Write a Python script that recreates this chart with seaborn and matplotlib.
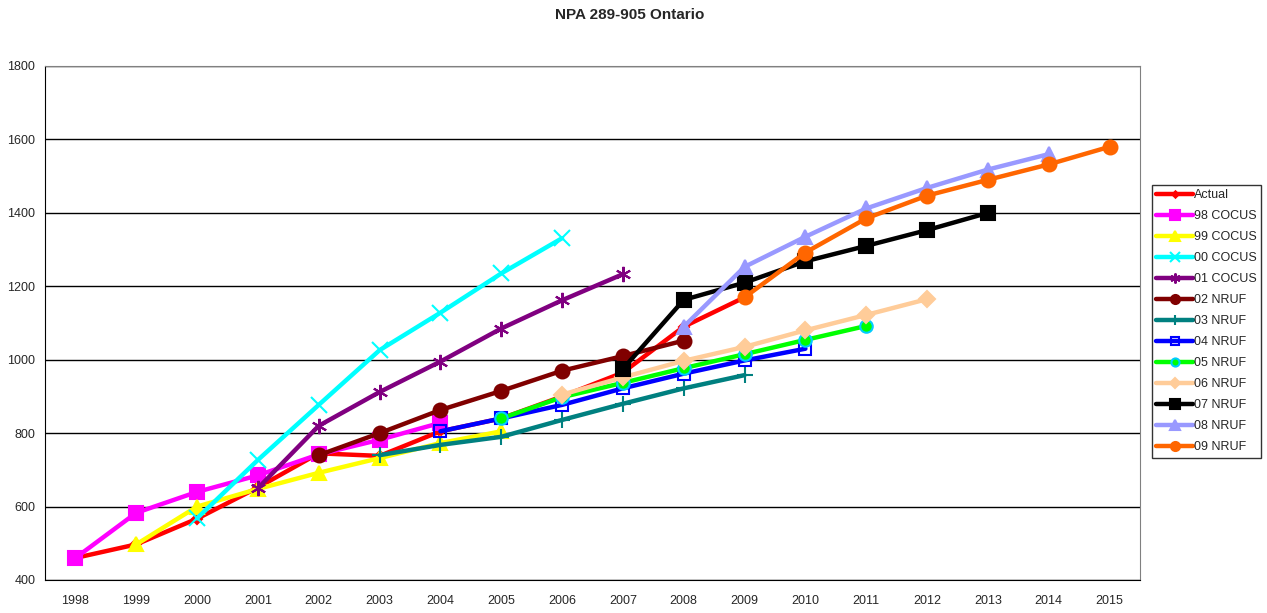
import pandas as pd
import numpy as np
import matplotlib
matplotlib.use("Agg")
import matplotlib.pyplot as plt
import seaborn as sns

# Forecast series (year -> lines)
actual_years = list(range(1998, 2010))
actual = [460, 497, 567, 652, 745, 738, 805, 840, 900, 965, 1090, 1170]

cocus98_years = list(range(1998, 2005))
cocus98 = [460, 583, 640, 685, 742, 782, 828]

cocus99_years = list(range(1999, 2006))
cocus99 = [497, 600, 648, 692, 732, 773, 805]

cocus00_years = list(range(2000, 2007))
cocus00 = [568, 727, 877, 1026, 1128, 1235, 1331]

cocus01_years = list(range(2001, 2008))
cocus01 = [650, 820, 912, 995, 1085, 1162, 1233]

nruf02_years = list(range(2002, 2009))
nruf02 = [740, 800, 863, 915, 970, 1010, 1052]

nruf03_years = list(range(2003, 2010))
nruf03 = [740, 768, 790, 836, 880, 922, 958]

nruf04_years = list(range(2004, 2011))
nruf04 = [805, 840, 877, 922, 962, 998, 1030]

nruf05_years = list(range(2005, 2012))
nruf05 = [840, 898, 937, 977, 1015, 1054, 1092]

nruf06_years = list(range(2006, 2013))
nruf06 = [905, 952, 997, 1035, 1080, 1122, 1165]

nruf07_years = list(range(2007, 2014))
nruf07 = [975, 1163, 1210, 1268, 1310, 1353, 1400]

nruf08_years = list(range(2008, 2015))
nruf08 = [1090, 1253, 1335, 1412, 1468, 1518, 1560]

nruf09_years = list(range(2009, 2016))
nruf09 = [1170, 1292, 1385, 1447, 1490, 1532, 1580]

year_labels = [str(y) for y in range(1998, 2016)]

# (label, years, values, line colour, marker, size, face, edge)
series = [
    ("Actual", actual_years, actual, "#FF0000", "D", 5, "#FF0000", "#FF0000"),
    ("98 COCUS", cocus98_years, cocus98, "#FF00FF", "s", 10, "#FF00FF", "#FF00FF"),
    ("99 COCUS", cocus99_years, cocus99, "#FFFF00", "^", 10, "#FFFF00", "#FFFF00"),
    ("00 COCUS", cocus00_years, cocus00, "#00FFFF", "x", 11, "#00FFFF", "#00FFFF"),
    ("01 COCUS", cocus01_years, cocus01, "#800080", (6, 2, 0), 11, "#800080", "#800080"),
    ("02 NRUF", nruf02_years, nruf02, "#800000", "o", 10, "#800000", "#800000"),
    ("03 NRUF", nruf03_years, nruf03, "#008080", "+", 11, "#008080", "#008080"),
    ("04 NRUF", nruf04_years, nruf04, "#0000FF", "s", 9, "none", "#0000FF"),
    ("05 NRUF", nruf05_years, nruf05, "#00FF00", "o", 9, "#00FF00", "#00CCFF"),
    ("06 NRUF", nruf06_years, nruf06, "#FFCC99", "D", 8, "#FFCC99", "#FFCC99"),
    ("07 NRUF", nruf07_years, nruf07, "#000000", "s", 10, "#000000", "#000000"),
    ("08 NRUF", nruf08_years, nruf08, "#9999FF", "^", 10, "#9999FF", "#9999FF"),
    ("09 NRUF", nruf09_years, nruf09, "#FF6600", "o", 10, "#FF6600", "#FF6600"),
]

sns.set_style("white")
plt.rcParams["font.family"] = ["Liberation Sans", "DejaVu Sans"]

fig = plt.figure(figsize=(12.67, 6.13), dpi=100)
ax = fig.add_axes([45 / 1267, 1 - 580 / 613, (1140 - 45) / 1267, (580 - 66) / 613])

for i, (label, yrs, vals, col, mk, ms, fc, ec) in enumerate(series):
    df = pd.DataFrame({"year": yrs, "value": vals})
    sns.lineplot(data=df, x="year", y="value", ax=ax, color=col, linewidth=3.2,
                 marker=mk, markersize=ms, markerfacecolor=fc, markeredgecolor=ec,
                 markeredgewidth=1.5, label=label, zorder=3 + i)

ax.set_xlim(1997.5, 2015.5)
ax.set_ylim(400, 1800)
ax.set_yticks(range(400, 1801, 200))
ax.set_xticks(range(1998, 2016))
ax.set_xticklabels(year_labels)
ax.set_xticks(np.arange(1997.5, 2016, 1), minor=True)
ax.tick_params(axis="both", which="both", direction="out", length=4, width=1,
               color="black", labelsize=9, pad=7)
ax.tick_params(axis="y", pad=3)
ax.grid(axis="y", color="black", linewidth=1)
ax.set_axisbelow(True)
for s in ax.spines.values():
    s.set_color("#808080")
ax.spines["left"].set_color("black")
ax.spines["bottom"].set_color("black")
ax.set_xlabel("")
ax.set_ylabel("")

fig.text(0.497, 1 - 15 / 613, "NPA 289-905 Ontario", ha="center", va="center",
         fontsize=11, fontweight="bold")

leg = ax.legend(loc="upper left", bbox_to_anchor=(1152 / 1267, 1 - 185 / 613),
                bbox_transform=fig.transFigure, frameon=True, fancybox=False,
                fontsize=9, handlelength=2.9, handletextpad=0.1, labelspacing=0.72,
                borderpad=0.35, borderaxespad=0, markerscale=0.65)
leg.get_frame().set_edgecolor("black")
leg.get_frame().set_linewidth(1)

fig.savefig("out.png", dpi=100)
